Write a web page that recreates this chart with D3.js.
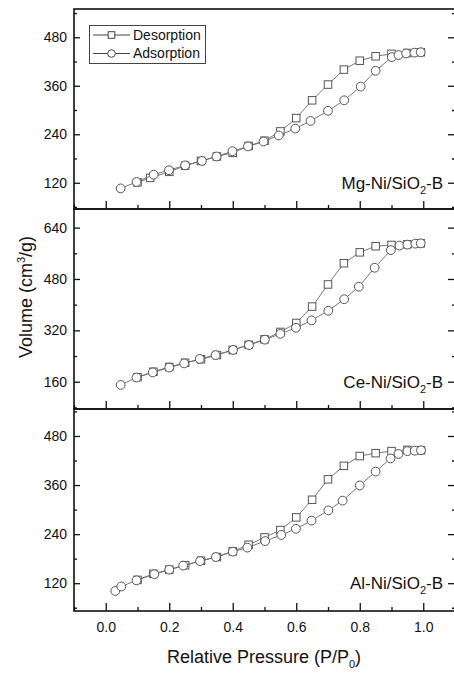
<!DOCTYPE html>
<html>
<head>
<meta charset="utf-8">
<script src="https://cdn.jsdelivr.net/npm/d3@7"></script>
<style>
  body { margin: 0; background: #fff; }
  text { font-family: Arial, 'Liberation Sans', sans-serif; fill: #111; }
</style>
</head>
<body>
<svg></svg>
<script>
// values (P/P0 , cm3/g)
let mgAdsP = [0.047, 0.097, 0.151, 0.199, 0.25, 0.303, 0.349, 0.399, 0.448, 0.497, 0.545, 0.597, 0.645, 0.70, 0.751, 0.803, 0.85, 0.901, 0.922, 0.946, 0.972, 0.992]
let mgAdsV = [106, 122, 140, 151, 163, 174, 185, 198, 210, 222, 237, 254, 273, 298, 324, 358, 397, 431, 436, 440, 442, 443]
let mgDesP = [0.992, 0.95, 0.90, 0.85, 0.80, 0.75, 0.70, 0.65, 0.60, 0.55, 0.50, 0.45, 0.40, 0.35, 0.30, 0.25, 0.20, 0.14, 0.10]
let mgDesV = [443, 441, 439, 433, 422, 400, 363, 324, 280, 247, 224, 211, 194, 185, 174, 162, 147, 132, 121]

let ceAdsP = [0.047, 0.097, 0.148, 0.2, 0.247, 0.296, 0.346, 0.401, 0.451, 0.501, 0.55, 0.599, 0.648, 0.701, 0.751, 0.797, 0.847, 0.898, 0.925, 0.95, 0.975, 0.992]
let ceAdsV = [150, 173, 189, 204, 217, 231, 243, 259, 274, 291, 309, 328, 351, 381, 417, 456, 515, 570, 584, 587, 590, 591]
let ceDesP = [0.992, 0.95, 0.90, 0.85, 0.80, 0.75, 0.70, 0.65, 0.60, 0.55, 0.50, 0.45, 0.40, 0.35, 0.30, 0.25, 0.20, 0.15, 0.10]
let ceDesV = [591, 588, 586, 582, 563, 529, 463, 394, 343, 315, 292, 275, 259, 243, 230, 219, 206, 191, 174]

let alAdsP = [0.03, 0.049, 0.097, 0.153, 0.2, 0.244, 0.297, 0.347, 0.4, 0.446, 0.502, 0.553, 0.599, 0.648, 0.701, 0.746, 0.8, 0.85, 0.897, 0.922, 0.95, 0.973, 0.993]
let alAdsV = [101, 112, 127, 142, 153, 163, 174, 184, 197, 207, 223, 238, 253, 273, 298, 322, 359, 393, 425, 436, 443, 444, 445]
let alDesP = [0.993, 0.95, 0.90, 0.85, 0.80, 0.75, 0.70, 0.65, 0.60, 0.55, 0.50, 0.45, 0.40, 0.35, 0.30, 0.25, 0.20, 0.15, 0.10]
let alDesV = [445, 446, 443, 438, 431, 407, 374, 324, 281, 250, 232, 214, 198, 184, 175, 164, 153, 143, 128]

// tick labels
let xTicks = [0, 0.2, 0.4, 0.6, 0.8, 1.0]
let xMinor = [-0.1, 0.1, 0.3, 0.5, 0.7, 0.9, 1.1]
let yTicksMg = [120, 240, 360, 480]
let yTicksCe = [160, 320, 480, 640]
let yTicksAl = [120, 240, 360, 480]
let sampleNames = ['Mg-Ni/SiO', 'Ce-Ni/SiO', 'Al-Ni/SiO']
let seriesNames = ['Desorption', 'Adsorption']

// canvas
let width = 454
let height = 673
let left = 74
let right = 455

let panels = [
    {name: sampleNames[0], top: 9, bottom: 209, domain: [55, 550], ticks: yTicksMg, step: 60, labelAt: 120,
     ads: mgAdsP.map((p, i) => [p, mgAdsV[i]]), des: mgDesP.map((p, i) => [p, mgDesV[i]])},
    {name: sampleNames[1], top: 209, bottom: 409, domain: [75, 698], ticks: yTicksCe, step: 80, labelAt: 160,
     ads: ceAdsP.map((p, i) => [p, ceAdsV[i]]), des: ceDesP.map((p, i) => [p, ceDesV[i]])},
    {name: sampleNames[2], top: 409, bottom: 611, domain: [52, 546], ticks: yTicksAl, step: 60, labelAt: 120,
     ads: alAdsP.map((p, i) => [p, alAdsV[i]]), des: alDesP.map((p, i) => [p, alDesV[i]])}
]

let svg = d3.select('svg').attr('width', width).attr('height', height)

let xScale = d3.scaleLinear().domain([-0.1, 1.1]).range([left, right])

let drawPanel = (panel, index) => {
    let yScale = d3.scaleLinear().domain(panel.domain).range([panel.bottom, panel.top])
    let g = svg.append('g')

    let minorY = d3.range(panel.ticks[0] - panel.step, panel.domain[1], panel.step)
                    .filter(v => v > panel.domain[0] && panel.ticks.indexOf(v) < 0)

    // left axis
    g.append('g')
        .attr('transform', 'translate(' + left + ',0)')
        .call(d3.axisLeft(yScale).tickValues(panel.ticks).tickSizeInner(-6).tickSizeOuter(0).tickPadding(7))
    g.append('g')
        .attr('transform', 'translate(' + left + ',0)')
        .call(d3.axisLeft(yScale).tickValues(minorY).tickSizeInner(-3).tickSizeOuter(0).tickFormat(''))

    // right axis, mirror ticks only
    g.append('g')
        .attr('transform', 'translate(' + right + ',0)')
        .call(d3.axisRight(yScale).tickValues(panel.ticks).tickSizeInner(-7).tickSizeOuter(0).tickFormat(''))
    g.append('g')
        .attr('transform', 'translate(' + right + ',0)')
        .call(d3.axisRight(yScale).tickValues(minorY).tickSizeInner(-3).tickSizeOuter(0).tickFormat(''))

    // bottom axis, labels only on the last panel
    let last = index == panels.length - 1
    g.append('g')
        .attr('transform', 'translate(0,' + panel.bottom + ')')
        .call(d3.axisBottom(xScale).tickValues(xTicks).tickSizeInner(-8).tickSizeOuter(0).tickPadding(11)
            .tickFormat(last ? d3.format('.1f') : ''))
    g.append('g')
        .attr('transform', 'translate(0,' + panel.bottom + ')')
        .call(d3.axisBottom(xScale).tickValues(xMinor).tickSizeInner(-4).tickSizeOuter(0).tickFormat(''))

    g.selectAll('.domain').remove()
    g.selectAll('.tick line').attr('stroke', '#111').attr('stroke-width', 1.3)
    g.selectAll('.tick text').attr('font-size', 14).attr('fill', '#111')
        .attr('font-family', "Arial, 'Liberation Sans', sans-serif")

    // frame
    g.append('rect')
        .attr('x', left)
        .attr('y', panel.top)
        .attr('width', right - left)
        .attr('height', panel.bottom - panel.top)
        .attr('fill', 'none')
        .attr('stroke', '#111')
        .attr('stroke-width', 1.6)

    let line = d3.line().x(d => xScale(d[0])).y(d => yScale(d[1]))

    // desorption first, adsorption sits on top of it
    g.append('path')
        .datum(panel.des)
        .attr('d', line)
        .attr('fill', 'none')
        .attr('stroke', '#666')
        .attr('stroke-width', 0.9)
    g.selectAll('rect.des')
        .data(panel.des)
        .enter()
        .append('rect')
        .attr('class', 'des')
        .attr('x', d => xScale(d[0]) - 3.75)
        .attr('y', d => yScale(d[1]) - 3.75)
        .attr('width', 7.5)
        .attr('height', 7.5)
        .attr('fill', '#fff')
        .attr('stroke', '#555')
        .attr('stroke-width', 1)

    g.append('path')
        .datum(panel.ads)
        .attr('d', line)
        .attr('fill', 'none')
        .attr('stroke', '#666')
        .attr('stroke-width', 0.9)
    g.selectAll('circle.ads')
        .data(panel.ads)
        .enter()
        .append('circle')
        .attr('class', 'ads')
        .attr('cx', d => xScale(d[0]))
        .attr('cy', d => yScale(d[1]))
        .attr('r', 4.4)
        .attr('fill', '#fff')
        .attr('stroke', '#555')
        .attr('stroke-width', 1)

    // sample name with subscript
    let label = g.append('text')
        .attr('x', 443)
        .attr('y', yScale(panel.labelAt) + 6)
        .attr('text-anchor', 'end')
        .attr('font-size', 17)
    label.append('tspan').text(panel.name)
    label.append('tspan').attr('font-size', 11).attr('dy', 5).text('2')
    label.append('tspan').attr('dy', -5).text('-B')
}

panels.forEach(drawPanel)

// legend
let legend = svg.append('g')
legend.append('rect')
    .attr('x', 89.5)
    .attr('y', 25.5)
    .attr('width', 116)
    .attr('height', 38)
    .attr('fill', '#fff')
    .attr('stroke', '#444')
    .attr('stroke-width', 1)

seriesNames.forEach((name, i) => {
    let y = 35 + i * 18.5
    legend.append('line')
        .attr('x1', 93).attr('x2', 130)
        .attr('y1', y).attr('y2', y)
        .attr('stroke', '#444')
        .attr('stroke-width', 1)
    if (i == 0) {
        legend.append('rect')
            .attr('x', 111.5 - 3.3).attr('y', y - 3.3)
            .attr('width', 6.6).attr('height', 6.6)
            .attr('fill', '#fff').attr('stroke', '#444')
    } else {
        legend.append('circle')
            .attr('cx', 111.5).attr('cy', y).attr('r', 3.8)
            .attr('fill', '#fff').attr('stroke', '#444')
    }
    legend.append('text')
        .attr('x', 133)
        .attr('y', y)
        .attr('dy', '0.35em')
        .attr('font-size', 14)
        .text(name)
})

// axis titles
let xTitle = svg.append('text')
    .attr('x', 264)
    .attr('y', 663)
    .attr('text-anchor', 'middle')
    .attr('font-size', 18)
xTitle.append('tspan').text('Relative Pressure (P/P')
xTitle.append('tspan').attr('font-size', 11).attr('dy', 5).text('0')
xTitle.append('tspan').attr('dy', -5).text(')')

let yTitle = svg.append('text')
    .attr('transform', 'translate(32,297) rotate(-90)')
    .attr('text-anchor', 'middle')
    .attr('font-size', 18)
yTitle.append('tspan').text('Volume (cm')
yTitle.append('tspan').attr('font-size', 11).attr('dy', -7).text('3')
yTitle.append('tspan').attr('dy', 7).text('/g)')
</script>
</body>
</html>
